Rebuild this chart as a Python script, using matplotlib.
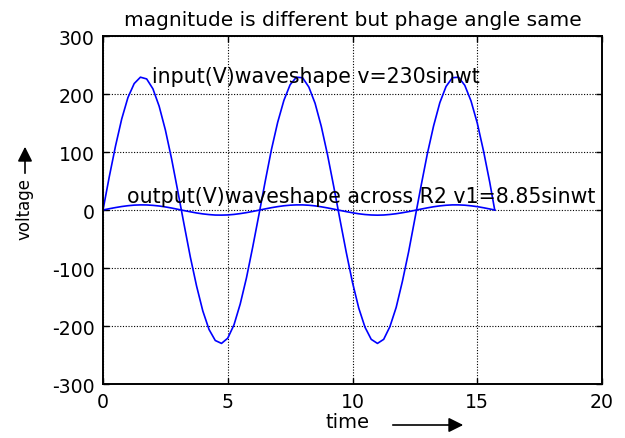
import matplotlib
matplotlib.use("Agg")
import matplotlib.pyplot as plt
from matplotlib.patches import FancyArrowPatch

plt.rcParams['font.family'] = ['DejaVu Sans']
plt.rcParams['axes.unicode_minus'] = False

title = "magnitude is different but phage angle same"
input_label = "input(V)waveshape v=230sinwt"
output_label = "output(V)waveshape across R2 v1=8.85sinwt"
x_label = "time"
y_label = "voltage"
x_ticks = [0, 5, 10, 15, 20]
y_ticks = [-300, -200, -100, 0, 100, 200, 300]

time = [0, 0.25, 0.5, 0.75, 1.0, 1.25, 1.5, 1.75, 2.0, 2.25, 2.5, 2.75,
        3.0, 3.25, 3.5, 3.75, 4.0, 4.25, 4.5, 4.75, 5.0, 5.25, 5.5, 5.75,
        6.0, 6.25, 6.5, 6.75, 7.0, 7.25, 7.5, 7.75, 8.0, 8.25, 8.5, 8.75,
        9.0, 9.25, 9.5, 9.75, 10.0, 10.25, 10.5, 10.75, 11.0, 11.25, 11.5,
        11.75, 12.0, 12.25, 12.5, 12.75, 13.0, 13.25, 13.5, 13.75, 14.0,
        14.25, 14.5, 14.75, 15.0, 15.25, 15.5, 15.7]

v_input = [0, 57, 110, 157, 194, 218, 229, 226, 209, 179, 138, 88,
           32, -25, -81, -131, -174, -206, -225, -230, -221, -198, -162, -117,
           -64, -8, 49, 104, 151, 189, 216, 229, 228, 212, 184, 144,
           95, 40, -17, -73, -125, -169, -202, -223, -230, -223, -201,
           -168, -123, -72, -15, 42, 97, 145, 185, 213, 228,
           229, 215, 188, 150, 102, 48, 0]

v_output = [0, 2.2, 4.2, 6.0, 7.4, 8.4, 8.8, 8.7, 8.0, 6.9, 5.3, 3.4,
            1.2, -1.0, -3.1, -5.1, -6.7, -7.9, -8.7, -8.8, -8.5, -7.6, -6.2, -4.5,
            -2.5, -0.3, 1.9, 4.0, 5.8, 7.3, 8.3, 8.8, 8.8, 8.2, 7.1, 5.5,
            3.6, 1.5, -0.7, -2.8, -4.8, -6.5, -7.8, -8.6, -8.9, -8.6, -7.7,
            -6.4, -4.7, -2.8, -0.6, 1.6, 3.7, 5.6, 7.1, 8.2, 8.8,
            8.8, 8.3, 7.2, 5.8, 3.9, 1.8, 0]

fig = plt.figure(figsize=(6.25, 4.39), dpi=100)
ax = fig.add_axes([0.1648, 0.123, 0.7984, 0.7927])

ax.plot(time, v_input, color=(0, 0, 1), lw=1.2)
ax.plot(time, v_output, color=(0, 0, 1), lw=1.2)

ax.set_xlim(0, 20)
ax.set_ylim(-300, 300)
ax.set_xticks(x_ticks)
ax.set_yticks(y_ticks)
ax.tick_params(direction='in', top=True, right=True, labelsize=13.6, length=4, width=1, pad=6)
ax.grid(True, color='black', linestyle=(0, (1, 1.5)), linewidth=0.8)
for s in ax.spines.values():
    s.set_linewidth(1.4)

ax.text(1.95, 231, input_label, fontsize=14.8, va='center', ha='left')
ax.text(0.96, 24, output_label, fontsize=14.8, va='center', ha='left')

fig.text(0.5648, 1 - 20 / 439, title, fontsize=14.5, ha='center', va='center')

fig.text(348 / 625, 1 - 423 / 439, x_label, fontsize=14, ha='center', va='center')
fig.text(25 / 625, 1 - 209 / 439, y_label, fontsize=12, ha='center', va='center', rotation=90)

fig.add_artist(FancyArrowPatch(
    (390 / 625, 1 - 426 / 439), (466 / 625, 1 - 426 / 439),
    transform=fig.transFigure, arrowstyle='-|>', mutation_scale=22, color='black', lw=1.2))
fig.add_artist(FancyArrowPatch(
    (25 / 625, 1 - 177 / 439), (25 / 625, 1 - 145 / 439),
    transform=fig.transFigure, arrowstyle='-|>', mutation_scale=22, color='black', lw=1.2))

fig.savefig("out.png", dpi=100)
